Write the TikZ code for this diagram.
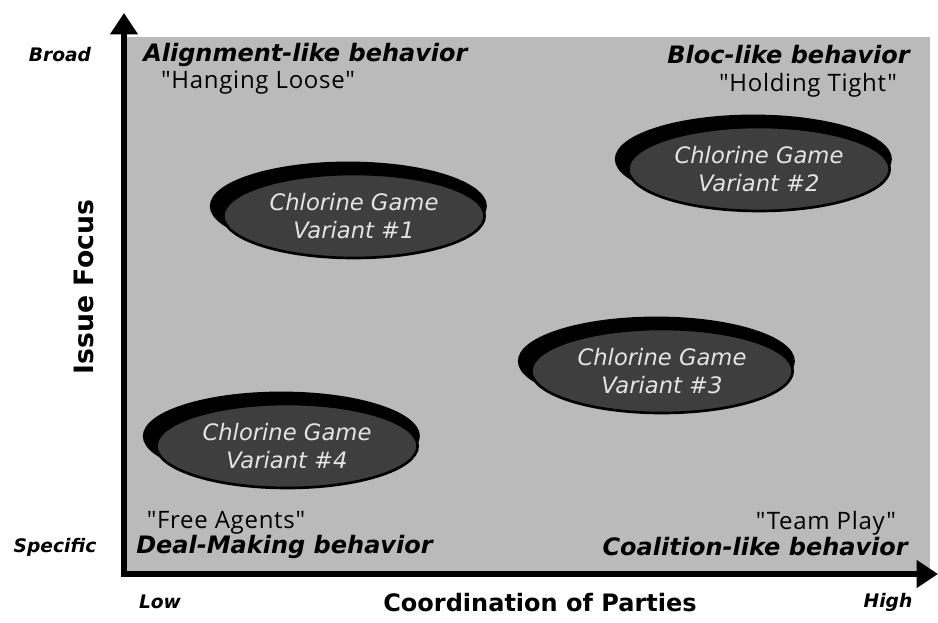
\documentclass[tikz,border=0pt]{standalone}
\usepackage{fontspec}
\setmainfont{DejaVu Sans}[BoldFont={DejaVu Sans Bold},ItalicFont={DejaVu Sans Oblique},BoldItalicFont={DejaVu Sans Bold Oblique}]
\newfontfamily\handfont{Open Sans}[LetterSpace=3]
\usepackage{tikz}
\usetikzlibrary{arrows.meta,positioning,shapes.geometric,shadows}

\definecolor{panelgray}{RGB}{186,186,186}
\definecolor{blobgray}{RGB}{62,62,62}
\definecolor{blobtext}{RGB}{228,228,228}

\begin{document}
\begin{tikzpicture}[
  x=0.75pt, y=0.75pt,
  >={Triangle[length=16pt,width=20pt]},
  axis/.style={line width=4.5pt, <->, line join=miter},
  blob/.style={ellipse, draw=black, line width=2pt, fill=blobgray, text=blobtext, align=center,
    minimum width=196pt, minimum height=63pt, inner sep=0pt,
    font=\fontsize{17}{21}\selectfont\itshape,
    general shadow={fill=black, shadow scale=1.06, shadow xshift=-4pt, shadow yshift=7pt}},
  lab/.style={font=\fontsize{14}{17}\selectfont\bfseries\itshape, inner sep=0pt},
  zone/.style={font=\fontsize{18}{21}\selectfont\bfseries\itshape, inner sep=0pt},
  saying/.style={font=\fontsize{18}{21}\selectfont\handfont, inner sep=0pt},
  axislab/.style={font=\fontsize{18}{21}\selectfont\bfseries, inner sep=0pt}
]
\useasboundingbox (0,0) rectangle (938,623);
\fill[panelgray] (124,49) rectangle (930,586);

\coordinate (O) at (124,49);
\coordinate (Ytop) at (124,610);
\coordinate (Xend) at (938,49);
\draw[axis] (Ytop) -- (O) -- (Xend);

\node[blob] (V1) at (354,407) {Chlorine Game\\Variant \#1};
\node[blob] (V2) at (759,454) {Chlorine Game\\Variant \#2};
\node[blob] (V3) at (662,252) {Chlorine Game\\Variant \#3};
\node[blob] (V4) at (287,177) {Chlorine Game\\Variant \#4};

\node[zone, anchor=west] (align) at (143,568) {Alignment-like behavior};
\node[saying] (loose) at (258,540) {"Hanging Loose"};
\node[zone, anchor=east] (bloc) at (910,568) {Bloc-like behavior};
\node[saying] (tight) at (808,538) {"Holding Tight"};
\node[saying] (free) at (226,100) {"Free Agents"};
\node[zone, anchor=west] (deal) at (136,76) {Deal-Making behavior};
\node[saying] (team) at (826,100) {"Team Play"};
\node[zone, anchor=east] (coal) at (908,76) {Coalition-like behavior};

\node[lab] (broad) at (60,568) {Broad};
\node[lab] (specific) at (55,76) {Specific};
\node[lab] (low) at (160,21) {Low};
\node[lab] (high) at (888,21) {High};
\node[axislab] (xlab) at (540,20) {Coordination of Parties};
\node[axislab, font=\fontsize{20}{24}\selectfont\bfseries, rotate=90] (ylab) at (84,336) {Issue Focus};
\end{tikzpicture}
\end{document}
